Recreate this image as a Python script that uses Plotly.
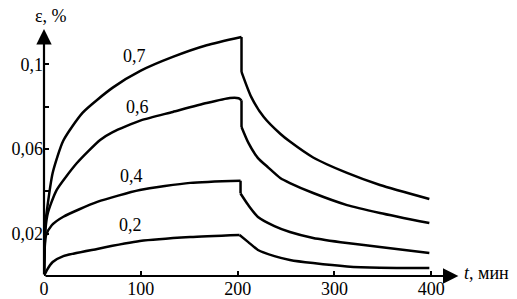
import plotly.graph_objects as go

# ---- data ----
# loading part (t <= ~204 min) and unloading part (after the drop)
t_07_load = [0, 1.5, 3, 9, 20, 40, 71, 100, 133, 168, 204]
e_07_load = [0, 0.025, 0.031, 0.0488, 0.064, 0.0772, 0.089, 0.097, 0.1035, 0.109, 0.1129]
t_07_unload = [204, 214, 227, 244, 254, 278, 313, 347, 398]
e_07_unload = [0.0964, 0.0846, 0.0751, 0.0672, 0.0635, 0.0560, 0.0487, 0.043, 0.0364]

t_06_load = [0, 1.5, 4, 13, 34, 58, 71, 100, 133, 168, 192, 201, 204]
e_06_load = [0, 0.022, 0.0298, 0.0406, 0.0534, 0.0643, 0.068, 0.0735, 0.0775, 0.0817, 0.0841, 0.084, 0.083]
t_06_unload = [204, 211, 221, 231, 244, 254, 278, 313, 347, 398]
e_06_unload = [0.0704, 0.063, 0.0557, 0.0515, 0.0463, 0.0439, 0.0392, 0.0335, 0.0298, 0.025]

t_04_load = [0, 2, 8, 20, 55, 99, 151, 203]
e_04_load = [0, 0.019, 0.024, 0.028, 0.035, 0.0406, 0.044, 0.045]
t_04_unload = [203, 211, 221, 238, 254, 278, 313, 347, 398]
e_04_unload = [0.039, 0.0335, 0.0279, 0.0236, 0.0208, 0.018, 0.0156, 0.0137, 0.0109]

t_02_load = [0, 3, 9, 20, 55, 99, 151, 202]
e_02_load = [0, 0.0028, 0.0066, 0.0094, 0.0128, 0.0165, 0.0184, 0.0194]
t_02_unload = [202, 211, 221, 238, 254, 278, 313, 347, 398]
e_02_unload = [0.0194, 0.016, 0.0123, 0.0094, 0.0076, 0.0061, 0.0045, 0.0039, 0.0038]

series = [("0,7", t_07_load, e_07_load, t_07_unload, e_07_unload, 93, 0.104),
          ("0,6", t_06_load, e_06_load, t_06_unload, e_06_unload, 97, 0.0798),
          ("0,4", t_04_load, e_04_load, t_04_unload, e_04_unload, 90, 0.0472),
          ("0,2", t_02_load, e_02_load, t_02_unload, e_02_unload, 89, 0.0241)]

x_ticks = [0, 100, 200, 300, 400]
x_tick_labels = ["0", "100", "200", "300", "400"]
y_ticks = [0.02, 0.04, 0.06, 0.08, 0.1]
y_tick_labels = ["0,02", "", "0,06", "", "0,1"]

FONT = "Liberation Serif, Times New Roman, serif"
LW = 2.5

fig = go.Figure()
for name, tl, el, tu, eu, lx, ly in series:
    fig.add_trace(go.Scatter(x=tl, y=el, mode="lines",
                             line=dict(color="black", width=LW, shape="spline", smoothing=0.6),
                             showlegend=False, hoverinfo="skip"))
    # vertical drop at unloading
    fig.add_trace(go.Scatter(x=[tl[-1], tu[0]], y=[el[-1], eu[0]], mode="lines",
                             line=dict(color="black", width=LW),
                             showlegend=False, hoverinfo="skip"))
    fig.add_trace(go.Scatter(x=tu, y=eu, mode="lines",
                             line=dict(color="black", width=LW, shape="spline", smoothing=0.6),
                             showlegend=False, hoverinfo="skip"))

annotations = []
for name, tl, el, tu, eu, lx, ly in series:
    annotations.append(dict(x=lx, y=ly, xref="x", yref="y", text=name, showarrow=False,
                            font=dict(family=FONT, size=18, color="black")))

# axis arrows
annotations.append(dict(x=428, y=0, ax=0, ay=0, xref="x", yref="y", axref="x", ayref="y",
                        text="", showarrow=True, arrowhead=2, arrowsize=1.4, arrowwidth=2.2,
                        arrowcolor="black", standoff=0, startstandoff=0))
annotations.append(dict(x=0, y=0.1167, ax=0, ay=0, xref="x", yref="y", axref="x", ayref="y",
                        text="", showarrow=True, arrowhead=2, arrowsize=1.4, arrowwidth=2.2,
                        arrowcolor="black", standoff=0, startstandoff=0))
# axis titles
annotations.append(dict(x=7, y=1.024, xref="x", yref="paper", text="ε, %", showarrow=False,
                        xanchor="center", yanchor="middle",
                        font=dict(family=FONT, size=18, color="black")))
annotations.append(dict(x=432, y=0.0015, xref="x", yref="y", text="<i>t</i>, мин", showarrow=False,
                        xanchor="left", yanchor="middle",
                        font=dict(family=FONT, size=18, color="black")))

fig.update_layout(
    width=517, height=299,
    margin=dict(l=44, r=47, t=22, b=23, autoexpand=False),
    paper_bgcolor="white", plot_bgcolor="white",
    hovermode=False,
    annotations=annotations,
    xaxis=dict(range=[0, 440], tickvals=x_ticks, ticktext=x_tick_labels,
               ticks="inside", ticklen=5, tickwidth=2, tickcolor="black",
               showgrid=False, zeroline=False, showline=False, automargin=False,
               tickfont=dict(family=FONT, size=18, color="black")),
    yaxis=dict(range=[0, 0.12], tickvals=y_ticks, ticktext=y_tick_labels,
               ticks="inside", ticklen=5, tickwidth=2, tickcolor="black",
               showgrid=False, zeroline=False, showline=False, automargin=False,
               tickfont=dict(family=FONT, size=18, color="black")),
)

fig.write_html("out.html", config={"displayModeBar": False, "staticPlot": True},
               post_script="document.body.style.margin='0';document.body.style.overflow='hidden';")
